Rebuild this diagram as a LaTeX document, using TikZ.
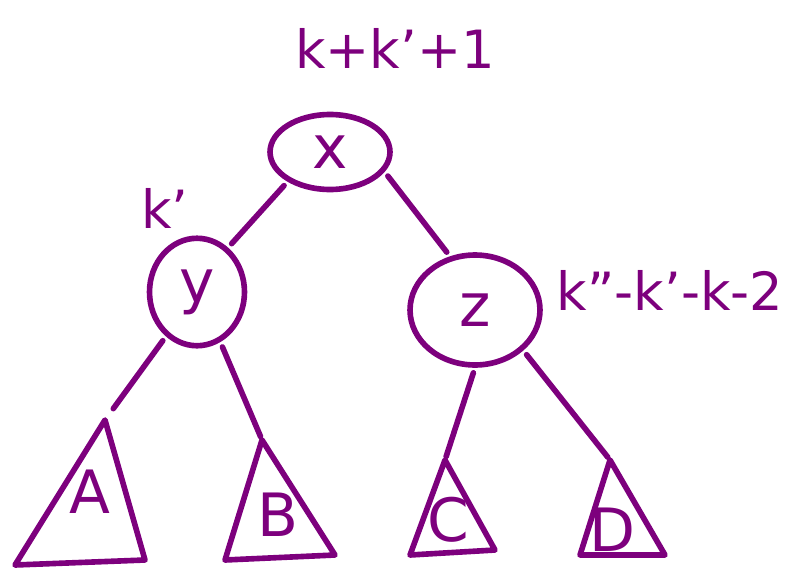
\documentclass[tikz,border=0pt]{standalone}
\usepackage{fontspec}
\setmainfont{DejaVu Sans}
\usetikzlibrary{shapes.geometric}
\definecolor{ink}{RGB}{125,0,125}
\begin{document}
\begin{tikzpicture}[x=0.02cm,y=-0.02cm,
  every path/.style={draw=ink,line width=3.2pt,line cap=round,line join=round},
  circ/.style={ellipse,draw=ink,line width=3.2pt,inner sep=0pt,text=ink,font=\fontsize{34}{40}\selectfont},
  lbl/.style={text=ink,inner sep=0pt,font=\fontsize{30}{36}\selectfont},
  tri/.style={text=ink,inner sep=0pt,font=\fontsize{34}{40}\selectfont},
  edge/.style={shorten <=3pt,shorten >=3pt}]
\useasboundingbox[draw=none] (0,0) rectangle (810,581);
% tree nodes
\node[circ,minimum width=2.4cm,minimum height=1.5cm] (x) at (330,152) {x};
\node[circ,minimum width=1.9cm,minimum height=2.15cm] (y) at (197,292) {y};
\node[circ,minimum width=2.6cm,minimum height=2.2cm] (z) at (475,310) {z};
% triangles
\coordinate (aA) at (105,420); \coordinate (aA1) at (15,565); \coordinate (aA2) at (145,560);
\coordinate (aB) at (262,440); \coordinate (aB1) at (225,560); \coordinate (aB2) at (335,555);
\coordinate (aC) at (445,460); \coordinate (aC1) at (410,555); \coordinate (aC2) at (495,550);
\coordinate (aD) at (610,460); \coordinate (aD1) at (580,555); \coordinate (aD2) at (665,555);
\draw (aA) -- (aA1) -- (aA2) -- cycle;
\draw (aB) -- (aB1) -- (aB2) -- cycle;
\draw (aC) -- (aC1) -- (aC2) -- cycle;
\draw (aD) -- (aD1) -- (aD2) -- cycle;
\node[tri] (A) at (90,492) {A};
\node[tri] (B) at (278,515) {B};
\node[tri] (C) at (448,520) {C};
\node[tri] (D) at (612,530) {D};
% edges
\draw[edge] (x.215) -- (y.55);
\draw[edge] (x.340) -- (z.115);
\draw[shorten <=3pt,shorten >=8pt] (y.235) -- (aA);
\draw[shorten <=3pt,shorten >=2pt] (y.295) -- (aB);
\draw[shorten <=3pt,shorten >=2pt] (z.270) -- (aC);
\draw[shorten <=3pt,shorten >=2pt] (z.320) -- (aD);
% labels
\node[lbl] (lx) at (395,48) {k+k'+1};
\node[lbl] (ly) at (165,208) {k'};
\node[lbl] (lz) at (670,290) {k''-k'-k-2};
\end{tikzpicture}
\end{document}
